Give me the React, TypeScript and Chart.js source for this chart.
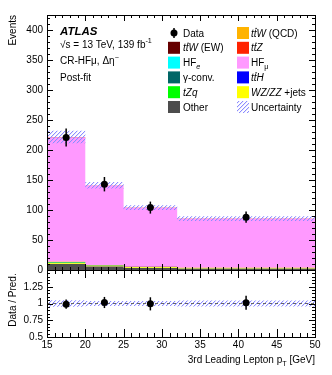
import React, { useEffect, useRef } from 'react';
import { Chart, registerables } from 'chart.js';
Chart.register(...registerables);

// ---------- data ----------
const binEdges = [15, 20, 25, 32, 50];
const binCenters = [17.5, 22.5, 28.5, 41];
const other = [10, 6, 3.5, 2];
const wzzzJets = [1.2, 1.0, 1.0, 0.8];
const tZq = [1.3, 0.6, 0.4, 0.3];
const gammaConv = [0.3, 0.2, 0.1, 0.1];
const hfE = [0.3, 0.2, 0.1, 0.1];
const ttH = [0.2, 0.1, 0.1, 0.1];
const ttWEW = [0.1, 0.1, 0.1, 0.1];
const ttWQCD = [0.3, 0.2, 0.1, 0.1];
const hfMu = [207, 132.5, 98.5, 82];
const ttZ = [1.0, 0.3, 0.2, 0.1];
const totalUnc = [10.5, 5.5, 4, 4];
const dataValues = [221, 143, 104, 88];
const dataErrors = [15, 12, 10, 9.4];
const ratioValues = [0.99, 1.015, 0.995, 1.01];
const ratioErrors = [0.068, 0.083, 0.098, 0.105];
const ratioUnc = [0.047, 0.039, 0.038, 0.046];
const xTickLabels = ['15', '20', '25', '30', '35', '40', '45', '50'];

const FONT = 'Liberation Sans, Arial, Helvetica, sans-serif';

type Part = { t: string; i?: boolean; bar?: boolean; sub?: boolean; sup?: boolean; b?: boolean };

const stackDefs: { name: Part[]; vals: number[]; color: string }[] = [
  { name: [{ t: 'Other' }], vals: other, color: '#4d4d4d' },
  { name: [{ t: 'WZ/ZZ', i: true }, { t: ' +jets' }], vals: wzzzJets, color: '#ffff00' },
  { name: [{ t: 'tZq', i: true }], vals: tZq, color: '#00ff00' },
  { name: [{ t: 'γ-conv.' }], vals: gammaConv, color: '#006666' },
  { name: [{ t: 'HF' }, { t: 'e', sub: true, i: true }], vals: hfE, color: '#00ffff' },
  { name: [{ t: 't', i: true }, { t: 't', i: true, bar: true }, { t: 'H', i: true }], vals: ttH, color: '#0000ff' },
  { name: [{ t: 't', i: true }, { t: 't', i: true, bar: true }, { t: 'W', i: true }, { t: ' (EW)' }], vals: ttWEW, color: '#660000' },
  { name: [{ t: 't', i: true }, { t: 't', i: true, bar: true }, { t: 'W', i: true }, { t: ' (QCD)' }], vals: ttWQCD, color: '#ffb300' },
  { name: [{ t: 'HF' }, { t: 'μ', sub: true }], vals: hfMu, color: '#ff99ff' },
  { name: [{ t: 't', i: true }, { t: 't', i: true, bar: true }, { t: 'Z', i: true }], vals: ttZ, color: '#ff2200' },
];

const legendLeft = ['Data', 'ttW (EW)', 'HFe', 'γ-conv.', 'tZq', 'Other'];
const legendRight = ['ttW (QCD)', 'ttZ', 'HFμ', 'ttH', 'WZ/ZZ+jets', 'Uncertainty'];
const legendIndex: Record<string, number> = {
  'Other': 0, 'WZ/ZZ+jets': 1, 'tZq': 2, 'γ-conv.': 3, 'HFe': 4, 'ttH': 5, 'ttW (EW)': 6, 'ttW (QCD)': 7, 'HFμ': 8, 'ttZ': 9,
};

function stepPoints(vals: number[]) {
  return binEdges.map((x, i) => ({ x, y: vals[Math.min(i, vals.length - 1)] }));
}

function makeHatch() {
  const s = 4;
  const c = document.createElement('canvas');
  c.width = s; c.height = s;
  const g = c.getContext('2d')!;
  for (let x = 0; x < s; x++) {
    const y = s - 1 - x;
    g.fillStyle = 'rgb(140,140,255)';
    g.fillRect(x, y, 1, 1);
    g.fillStyle = 'rgba(160,160,255,0.25)';
    g.fillRect(x, (y + 1) % s, 1, 1);
  }
  return g.createPattern(c, 'repeat')!;
}

function setFont(ctx: CanvasRenderingContext2D, size: number, italic?: boolean, bold?: boolean) {
  ctx.font = `${italic ? 'italic ' : ''}${bold ? 'bold ' : ''}${size}px ${FONT}`;
}

function drawRich(ctx: CanvasRenderingContext2D, x: number, y: number, parts: Part[], size: number, align: 'left' | 'right' = 'left') {
  const measure = () => {
    let w = 0;
    for (const p of parts) {
      const sz = p.sub || p.sup ? size * 0.72 : size;
      setFont(ctx, sz, p.i, p.b);
      w += ctx.measureText(p.t).width;
    }
    return w;
  };
  let cx = align === 'right' ? x - measure() : x;
  ctx.textAlign = 'left';
  ctx.textBaseline = 'alphabetic';
  for (const p of parts) {
    const sz = p.sub || p.sup ? size * 0.72 : size;
    setFont(ctx, sz, p.i, p.b);
    const dy = p.sub ? size * 0.3 : p.sup ? -size * 0.45 : 0;
    ctx.fillText(p.t, cx, y + dy);
    const w = ctx.measureText(p.t).width;
    if (p.bar) {
      ctx.save();
      ctx.lineWidth = 0.8;
      ctx.strokeStyle = ctx.fillStyle as string;
      ctx.beginPath();
      ctx.moveTo(cx + 1.5, y - size * 0.82);
      ctx.lineTo(cx + w + 0.5, y - size * 0.82);
      ctx.stroke();
      ctx.restore();
    }
    cx += w;
  }
}

function tickValues(min: number, max: number, step: number) {
  const out: number[] = [];
  const n = Math.round((max - min) / step);
  for (let k = 0; k <= n; k++) out.push(+(min + k * step).toFixed(6));
  return out;
}

function framePlugin(cfg: { yMinorStart: number; yMinorEnd: number; yMinor: number; yMajor: number; xMajLen: number; xMinLen: number; yMajLen: number; yMinLen: number }) {
  return {
    id: 'frame',
    afterDatasetsDraw(chart: any) {
      const { ctx, chartArea: a, scales } = chart;
      const xs = scales.x, ys = scales.y;
      ctx.save();
      ctx.strokeStyle = '#000';
      ctx.lineWidth = 1;
      for (const v of tickValues(15, 50, 1)) {
        const px = Math.round(xs.getPixelForValue(v)) + 0.5;
        const major = Math.abs(v % 5) < 1e-6;
        const L = major ? cfg.xMajLen : cfg.xMinLen;
        ctx.beginPath();
        ctx.moveTo(px, a.bottom); ctx.lineTo(px, a.bottom - L);
        ctx.moveTo(px, a.top); ctx.lineTo(px, a.top + L);
        ctx.stroke();
      }
      for (const v of tickValues(cfg.yMinorStart, cfg.yMinorEnd, cfg.yMinor)) {
        const py = Math.round(ys.getPixelForValue(v)) + 0.5;
        const r = v / cfg.yMajor;
        const major = Math.abs(r - Math.round(r)) < 1e-6;
        const L = major ? cfg.yMajLen : cfg.yMinLen;
        ctx.beginPath();
        ctx.moveTo(a.left, py); ctx.lineTo(a.left + L, py);
        ctx.moveTo(a.right, py); ctx.lineTo(a.right - L, py);
        ctx.stroke();
      }
      ctx.strokeRect(Math.round(a.left) + 0.5, Math.round(a.top) + 0.5, Math.round(a.right - a.left), Math.round(a.bottom - a.top));
      ctx.restore();
    },
  };
}

function errorBarPlugin(vals: number[], errs: number[]) {
  return {
    id: 'errbars',
    afterDatasetsDraw(chart: any) {
      const { ctx, scales } = chart;
      ctx.save();
      ctx.strokeStyle = '#000';
      ctx.lineWidth = 1.5;
      binCenters.forEach((x, i) => {
        const px = scales.x.getPixelForValue(x);
        ctx.beginPath();
        ctx.moveTo(px, scales.y.getPixelForValue(vals[i] - errs[i]));
        ctx.lineTo(px, scales.y.getPixelForValue(vals[i] + errs[i]));
        ctx.stroke();
      });
      ctx.restore();
    },
  };
}

export default function App() {
  const mainRef = useRef<HTMLCanvasElement>(null);
  const ratioRef = useRef<HTMLCanvasElement>(null);

  useEffect(() => {
    const hatch = makeHatch();
    const tickFont = { family: FONT, size: 10 };

    const cum: number[][] = [];
    stackDefs.forEach((d, k) => {
      cum.push(d.vals.map((v, i) => (k === 0 ? 0 : cum[k - 1][i]) + v));
    });
    const total = cum[cum.length - 1];

    const stackSets = stackDefs.map((d, k) => ({
      type: 'line' as const,
      data: stepPoints(cum[k]),
      stepped: 'before' as const,
      borderWidth: 0,
      borderColor: d.color,
      backgroundColor: d.color,
      pointRadius: 0,
      fill: k === 0 ? 'origin' : '-1',
      order: 5,
    }));
    const n = stackSets.length;
    const bandSets = [
      { type: 'line' as const, data: stepPoints(total.map((t, i) => t - totalUnc[i])), stepped: 'before' as const, borderWidth: 0, pointRadius: 0, fill: false, order: 3, backgroundColor: hatch },
      { type: 'line' as const, data: stepPoints(total.map((t, i) => t + totalUnc[i])), stepped: 'before' as const, borderWidth: 0, pointRadius: 0, fill: n, order: 3, backgroundColor: hatch },
    ];
    const dataSet = {
      type: 'line' as const,
      data: binCenters.map((x, i) => ({ x, y: dataValues[i] })),
      showLine: false,
      pointRadius: 3.5,
      pointBackgroundColor: '#000',
      pointBorderColor: '#000',
      pointBorderWidth: 0,
      order: 1,
    };

    const legendPlugin = {
      id: 'texts',
      afterDraw(chart: any) {
        const ctx: CanvasRenderingContext2D = chart.ctx;
        ctx.save();
        ctx.fillStyle = '#000';
        drawRich(ctx, 60, 35, [{ t: 'ATLAS', i: true, b: true }], 11.5);
        drawRich(ctx, 60, 47.5, [{ t: '√s = 13 TeV, 139 fb' }, { t: '-1', sup: true }], 10);
        drawRich(ctx, 60, 64, [{ t: 'CR-HFμ, Δη' }, { t: '−', sup: true }], 10);
        drawRich(ctx, 60, 81, [{ t: 'Post-fit' }], 10);
        ctx.save();
        ctx.translate(15.5, 15);
        ctx.rotate(-Math.PI / 2);
        setFont(ctx, 10);
        ctx.textAlign = 'right';
        ctx.textBaseline = 'alphabetic';
        ctx.fillText('Events', 0, 0);
        ctx.restore();
        const rowY = (r: number) => 33 + r * 14.8;
        const drawEntry = (label: string, bx: number, tx: number, r: number) => {
          const cy = rowY(r);
          if (label === 'Data') {
            ctx.beginPath();
            ctx.fillStyle = '#000';
            ctx.arc(bx + 6, cy, 3.5, 0, Math.PI * 2);
            ctx.fill();
            ctx.lineWidth = 1.5;
            ctx.strokeStyle = '#000';
            ctx.beginPath();
            ctx.moveTo(bx + 6, cy - 5); ctx.lineTo(bx + 6, cy + 5);
            ctx.stroke();
            drawRich(ctx, tx, cy + 3.6, [{ t: 'Data' }], 10);
            return;
          }
          if (label === 'Uncertainty') {
            ctx.fillStyle = hatch;
            ctx.fillRect(bx, cy - 6, 12, 12);
            ctx.fillStyle = '#000';
            drawRich(ctx, tx, cy + 3.6, [{ t: 'Uncertainty' }], 10);
            return;
          }
          const d = stackDefs[legendIndex[label]];
          ctx.fillStyle = d.color;
          ctx.fillRect(bx, cy - 6, 12, 12);
          ctx.fillStyle = '#000';
          drawRich(ctx, tx, cy + 3.6, d.name, 10);
        };
        legendLeft.forEach((l, r) => drawEntry(l, 168, 183, r));
        legendRight.forEach((l, r) => drawEntry(l, 237, 251, r));
        ctx.restore();
      },
    };

    const main = new Chart(mainRef.current!, {
      type: 'line',
      data: { datasets: [...stackSets, ...bandSets, dataSet] as any },
      options: {
        responsive: false,
        animation: false,
        layout: { padding: { left: 0, right: 17, top: 15, bottom: 105 } },
        plugins: { legend: { display: false }, tooltip: { enabled: false } },
        scales: {
          x: { type: 'linear', min: 15, max: 50, display: false },
          y: {
            type: 'linear', min: 0, max: 425,
            afterFit: (s: any) => { s.width = 47; },
            grid: { display: false, drawTicks: false },
            border: { display: false },
            ticks: {
              stepSize: 50, padding: 4, autoSkip: false, color: '#000', font: tickFont,
              callback: (v: any) => (v % 50 === 0 && v <= 400 ? String(v) : ''),
            },
          },
        },
      } as any,
      plugins: [
        framePlugin({ yMinorStart: 0, yMinorEnd: 420, yMinor: 10, yMajor: 50, xMajLen: 6, xMinLen: 3, yMajLen: 6, yMinLen: 3 }),
        errorBarPlugin(dataValues, dataErrors),
        legendPlugin,
      ],
    });

    const ratioTexts = {
      id: 'rtexts',
      afterDraw(chart: any) {
        const ctx: CanvasRenderingContext2D = chart.ctx;
        ctx.save();
        ctx.fillStyle = '#000';
        ctx.save();
        ctx.translate(15.5, 300);
        ctx.rotate(-Math.PI / 2);
        setFont(ctx, 10);
        ctx.textAlign = 'center';
        ctx.fillText('Data / Pred.', 0, 0);
        ctx.restore();
        drawRich(ctx, 315, 363, [{ t: '3rd Leading Lepton p' }, { t: 'T', sub: true }, { t: ' [GeV]' }], 10, 'right');
        ctx.restore();
      },
    };

    const ones = binEdges.map(() => 1);
    const ratio = new Chart(ratioRef.current!, {
      type: 'line',
      data: {
        datasets: [
          { data: stepPoints(ratioUnc.map((u) => 1 - u)), stepped: 'before', borderWidth: 0, pointRadius: 0, fill: false, order: 3, backgroundColor: hatch },
          { data: stepPoints(ratioUnc.map((u) => 1 + u)), stepped: 'before', borderWidth: 0, pointRadius: 0, fill: '-1', order: 3, backgroundColor: hatch },
          { data: binEdges.map((x, i) => ({ x, y: ones[i] })), borderWidth: 1, borderColor: '#666', borderDash: [3, 3], pointRadius: 0, fill: false, order: 2 },
          { data: binCenters.map((x, i) => ({ x, y: ratioValues[i] })), showLine: false, pointRadius: 3.5, pointBackgroundColor: '#000', pointBorderWidth: 0, order: 1 },
        ] as any,
      },
      options: {
        responsive: false,
        animation: false,
        layout: { padding: { left: 0, right: 17, top: 270, bottom: 0 } },
        plugins: { legend: { display: false }, tooltip: { enabled: false } },
        scales: {
          x: {
            type: 'linear', min: 15, max: 50,
            afterFit: (s: any) => { s.height = 38; },
            grid: { display: false, drawTicks: false },
            border: { display: false },
            ticks: {
              stepSize: 5, padding: 2, autoSkip: false, maxRotation: 0, color: '#000', font: tickFont,
              callback: (v: any) => { const i = xTickLabels.indexOf(String(v)); return i >= 0 ? xTickLabels[i] : ''; },
            },
          },
          y: {
            type: 'linear', min: 0.5, max: 1.5,
            afterFit: (s: any) => { s.width = 47; },
            grid: { display: false, drawTicks: false },
            border: { display: false },
            ticks: {
              stepSize: 0.25, padding: 4, autoSkip: false, color: '#000', font: tickFont,
              callback: (v: any) => (v >= 1.49 ? '' : String(+v.toFixed(2))),
            },
          },
        },
      } as any,
      plugins: [
        framePlugin({ yMinorStart: 0.5, yMinorEnd: 1.5, yMinor: 0.05, yMajor: 0.25, xMajLen: 8, xMinLen: 4, yMajLen: 6, yMinLen: 3 }),
        errorBarPlugin(ratioValues, ratioErrors),
        ratioTexts,
      ],
    });

    return () => { main.destroy(); ratio.destroy(); };
  }, []);

  const cs: React.CSSProperties = { position: 'absolute', left: 0, top: 0, width: 332, height: 375 };
  return (
    <div style={{ position: 'absolute', left: 0, top: 0, width: 332, height: 375, background: '#fff' }}>
      <canvas ref={mainRef} width={332} height={375} style={cs} />
      <canvas ref={ratioRef} width={332} height={375} style={cs} />
    </div>
  );
}
